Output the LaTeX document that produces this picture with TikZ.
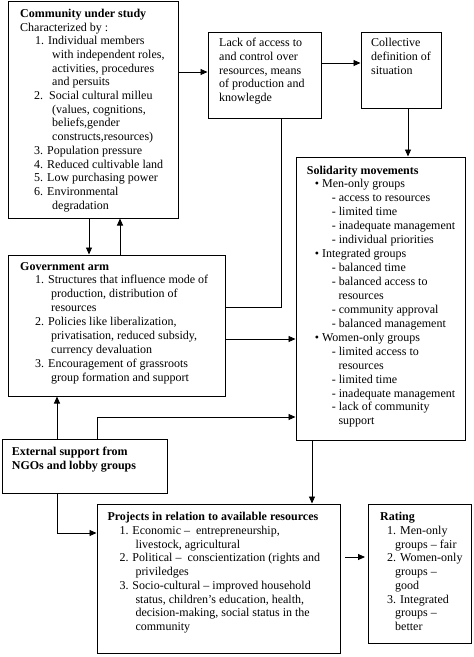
\documentclass[tikz,border=0pt]{standalone}
\usepackage{fontspec}
\setmainfont{Liberation Serif}
\usetikzlibrary{arrows.meta,fit}
\newcommand\lns[1]{\begin{tabular}[t]{@{}l@{}}#1\end{tabular}}
\begin{document}
\begin{tikzpicture}[x=1pt,y=-1pt,
  box/.style={draw, line width=1pt, inner sep=0pt},
  txt/.style={anchor=base west, inner sep=0pt, font=\fontsize{12}{13.75}\selectfont},
  conn/.style={line width=0.9pt},
  arr/.style={conn, -{Triangle[length=7pt,width=6pt]}}]
\useasboundingbox (0,0) rectangle (474,657);
% boxes
\node[box, fit={(8,1)(178,218)}] (comm) {};
\node[box, fit={(208,32)(321,118)}] (lack) {};
\node[box, fit={(361,32)(441,108)}] (coll) {};
\node[box, fit={(296,157)(465,440)}] (sol) {};
\node[box, fit={(8,255)(225,396)}] (gov) {};
\node[box, fit={(2,439)(167,493)}] (ext) {};
\node[box, fit={(97,504)(340,653)}] (proj) {};
\node[box, fit={(368,504)(471,643)}] (rate) {};
% texts
\node[txt, font=\fontsize{12}{13.7}\selectfont] (commtxt) at (20,17.3) {\lns{\textbf{Community under study}\\
Characterized by :\\
\hspace*{15pt}1. Individual members\\
\hspace*{32pt}with independent roles,\\
\hspace*{32pt}activities, procedures\\
\hspace*{32pt}and persuits\\
\hspace*{14pt}2.\ \ Social cultural milleu\\
\hspace*{32pt}(values, cognitions,\\
\hspace*{32pt}beliefs,gender\\
\hspace*{32pt}constructs,resources)\\
\hspace*{14pt}3. Population pressure\\
\hspace*{14pt}4. Reduced cultivable land\\
\hspace*{14pt}5. Low purchasing power\\
\hspace*{14pt}6. Environmental\\
\hspace*{32pt}degradation}};
\node[txt] (lacktxt) at (219,46.7) {\lns{Lack of access to\\ and control over\\ resources, means\\ of production and\\ knowlegde}};
\node[txt] (colltxt) at (371,46.7) {\lns{Collective\\ definition of\\ situation}};
\node[txt, font=\fontsize{12}{13.94}\selectfont] (soltxt) at (306.7,174) {\lns{\textbf{Solidarity movements}\\
\hspace*{8pt}\textbullet\ Men-only groups\\
\hspace*{25pt}- access to resources\\
\hspace*{25pt}- limited time\\
\hspace*{25pt}- inadequate management\\
\hspace*{25pt}- individual priorities\\
\hspace*{8pt}\textbullet\ Integrated groups\\
\hspace*{25pt}- balanced time\\
\hspace*{25pt}- balanced access to\\
\hspace*{31.6pt}resources\\
\hspace*{25pt}- community approval\\
\hspace*{25pt}- balanced management\\
\hspace*{8pt}\textbullet\ Women-only groups\\
\hspace*{25pt}- limited access to\\
\hspace*{31.6pt}resources\\
\hspace*{25pt}- limited time\\
\hspace*{25pt}- inadequate management\\
\hspace*{25pt}- lack of community\\
\hspace*{31.6pt}support}};
\node[txt, font=\fontsize{12}{13.9}\selectfont] (govtxt) at (20,270) {\lns{\textbf{Government arm}\\
\hspace*{15pt}1. Structures that influence mode of\\
\hspace*{31pt}production, distribution of\\
\hspace*{31pt}resources\\
\hspace*{15pt}2. Policies like liberalization,\\
\hspace*{31pt}privatisation, reduced subsidy,\\
\hspace*{31pt}currency devaluation\\
\hspace*{15pt}3. Encouragement of grassroots\\
\hspace*{31pt}group formation and support}};
\node[txt, font=\fontsize{12}{14}\selectfont\bfseries] (exttxt) at (11.7,455) {\lns{External support from\\ NGOs and lobby groups}};
\node[txt] (projtxt) at (107.3,520.7) {\lns{\textbf{Projects in relation to available resources}\\
\hspace*{12pt}1. Economic –\ \ entrepreneurship,\\
\hspace*{28pt}livestock, agricultural\\
\hspace*{12pt}2. Political –\ \ conscientization (rights and\\
\hspace*{28pt}priviledges\\
\hspace*{12pt}3. Socio-cultural – improved household\\
\hspace*{28pt}status, children’s education, health,\\
\hspace*{28pt}decision-making, social status in the\\
\hspace*{28pt}community}};
\node[txt] (ratetxt) at (380,520.7) {\lns{\textbf{Rating}\\
\hspace*{7pt}1. Men-only\\
\hspace*{15pt}groups – fair\\
\hspace*{7pt}2. Women-only\\
\hspace*{15pt}groups –\\
\hspace*{15pt}good\\
\hspace*{7pt}3. Integrated\\
\hspace*{15pt}groups –\\
\hspace*{15pt}better}};
% connector levels
\coordinate (yA) at (0,72);
\coordinate (yB) at (0,63);
\coordinate (xC) at (408,0);
\coordinate (xD) at (281,0);
\coordinate (yD) at (0,307);
\coordinate (xE) at (89,0);
\coordinate (xF) at (120,0);
\coordinate (yG) at (0,339);
\coordinate (xH) at (57,0);
\coordinate (xI) at (97,0);
\coordinate (yI) at (0,417);
\coordinate (xJ) at (312,0);
\coordinate (yK) at (0,533);
\coordinate (pa) at (345,557);
\coordinate (pb) at (365,557);
% connectors
\draw[arr] (comm.east |- yA) -- (lack.west |- yA);
\draw[arr] (lack.east |- yB) -- (coll.west |- yB);
\draw[arr] (coll.south -| xC) -- (sol.north -| xC);
\draw[conn] (lack.south -| xD) |- (gov.east |- yD);
\draw[arr] (comm.south -| xE) -- (gov.north -| xE);
\draw[arr] (gov.north -| xF) -- (comm.south -| xF);
\draw[arr] (gov.east |- yG) -- (sol.west |- yG);
\draw[arr] (ext.north -| xH) -- (gov.south -| xH);
\draw[arr] (ext.north -| xI) |- (sol.west |- yI);
\draw[arr] (sol.south -| xJ) -- (proj.north -| xJ);
\draw[arr] (ext.south -| xH) |- (proj.west |- yK);
\draw[arr] (pa) -- (pb);
\end{tikzpicture}
\end{document}
